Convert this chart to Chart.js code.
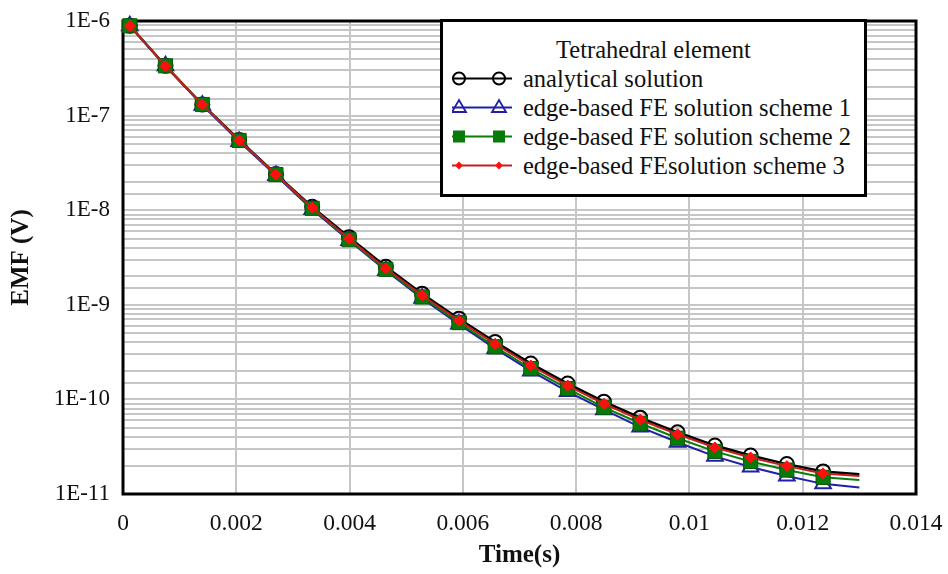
<!DOCTYPE html>
<html>
<head>
<meta charset="utf-8">
<script src="https://cdn.jsdelivr.net/npm/chart.js@4"></script>
<style>
  body { margin: 0; background: #fff; }
  #wrap { position: relative; width: 948px; height: 574px; }
  #legend {
    position: absolute; left: 440px; top: 19px; width: 427px; height: 178px;
    box-sizing: border-box; border: 3px solid #000; background: #fff;
    font-family: "Liberation Serif", "Times New Roman", serif; font-size: 24.5px; color: #111;
    padding-top: 13px;
  }
  #legend .title { text-align: center; height: 29px; line-height: 29px; }
  #legend .row { display: flex; align-items: center; height: 29px; line-height: 29px; }
  #legend svg { margin-left: 9px; margin-right: 11px; flex: none; }
</style>
</head>
<body>
<div id="wrap">
  <canvas id="chart" width="948" height="574"></canvas>
  <div id="legend"></div>
</div>
<script>
// time (s) of each marker; the last point only carries the line
const times = [0.00012, 0.00075, 0.0014, 0.00205, 0.0027, 0.00334, 0.00399, 0.00464, 0.00528, 0.00593,
  0.00657, 0.0072, 0.00785, 0.00849, 0.00913, 0.00979, 0.01045, 0.01108, 0.01172, 0.01236, 0.013];

const analytical = [8.9e-7, 3.36e-7, 1.31e-7, 5.53e-8, 2.41e-8, 1.085e-8, 5.18e-9, 2.52e-9, 1.31e-9, 7.13e-10,
  4.05e-10, 2.39e-10, 1.47e-10, 9.45e-11, 6.4e-11, 4.49e-11, 3.25e-11, 2.55e-11, 2.07e-11, 1.73e-11, 1.62e-11];
const scheme1 = [8.9e-7, 3.36e-7, 1.29e-7, 5.33e-8, 2.32e-8, 1.02e-8, 4.77e-9, 2.3e-9, 1.17e-9, 6.25e-10,
  3.44e-10, 2.0e-10, 1.21e-10, 7.78e-11, 5.1e-11, 3.52e-11, 2.5e-11, 1.93e-11, 1.55e-11, 1.28e-11, 1.17e-11];
const scheme2 = [8.9e-7, 3.36e-7, 1.31e-7, 5.46e-8, 2.38e-8, 1.047e-8, 4.88e-9, 2.37e-9, 1.21e-9, 6.48e-10,
  3.6e-10, 2.12e-10, 1.30e-10, 8.25e-11, 5.6e-11, 3.89e-11, 2.82e-11, 2.21e-11, 1.79e-11, 1.5e-11, 1.41e-11];
const scheme3 = [8.9e-7, 3.36e-7, 1.31e-7, 5.46e-8, 2.38e-8, 1.06e-8, 5.0e-9, 2.43e-9, 1.26e-9, 6.8e-10,
  3.86e-10, 2.28e-10, 1.40e-10, 9.0e-11, 6.1e-11, 4.28e-11, 3.1e-11, 2.43e-11, 1.97e-11, 1.65e-11, 1.55e-11];

const seriesNames = ["analytical solution", "edge-based FE solution scheme 1",
  "edge-based FE solution scheme 2", "edge-based FEsolution scheme 3"];
const legendTitle = "Tetrahedral element";

const xTickLabels = ["0", "0.002", "0.004", "0.006", "0.008", "0.01", "0.012", "0.014"];
const yTickLabels = ["1E-11", "1E-10", "1E-9", "1E-8", "1E-7", "1E-6"];

const font = "'Liberation Serif', 'Times New Roman', serif";

function toPoints(values) {
  return values.map((v, i) => ({ x: times[i], y: v }));
}

// no marker on the last point, the line just runs on
function radii(r) {
  return times.map((t, i) => i === times.length - 1 ? 0 : r);
}

const frame = {
  id: "frame",
  beforeDatasetsDraw(c) {
    const a = c.chartArea;
    const ctx = c.ctx;
    ctx.save();
    ctx.strokeStyle = "#000";
    ctx.lineWidth = 3;
    ctx.strokeRect(a.left, a.top, a.right - a.left, a.bottom - a.top);
    ctx.restore();
  }
};

const chart = new Chart(document.getElementById("chart"), {
  type: "line",
  data: {
    datasets: [
      {
        label: seriesNames[0], data: toPoints(analytical), order: 4,
        borderColor: "#000", borderWidth: 2.5,
        pointStyle: "circle", pointRadius: radii(7), pointBorderWidth: 2,
        pointBorderColor: "#000", pointBackgroundColor: "rgba(0,0,0,0)", clip: false
      },
      {
        label: seriesNames[1], data: toPoints(scheme1), order: 3,
        borderColor: "#1f1fa8", borderWidth: 2,
        pointStyle: "triangle", pointRadius: radii(9), pointBorderWidth: 2,
        pointBorderColor: "#1f1fa8", pointBackgroundColor: "rgba(0,0,0,0)", clip: false
      },
      {
        label: seriesNames[2], data: toPoints(scheme2), order: 2,
        borderColor: "#0a7d0a", borderWidth: 2,
        pointStyle: "rect", pointRadius: radii(10), pointBorderWidth: 1,
        pointBorderColor: "#0b5a0b", pointBackgroundColor: "#087a08", clip: false
      },
      {
        label: seriesNames[3], data: toPoints(scheme3), order: 1,
        borderColor: "#c0201c", borderWidth: 2,
        pointStyle: "rectRot", pointRadius: radii(5.5), pointBorderWidth: 1,
        pointBorderColor: "#ff1010", pointBackgroundColor: "#ff1010", clip: false
      }
    ]
  },
  options: {
    responsive: false,
    animation: false,
    layout: { padding: { left: 0, right: 32, top: 21, bottom: 0 } },
    plugins: { legend: { display: false }, tooltip: { enabled: false } },
    scales: {
      x: {
        type: "linear", min: 0, max: 0.014,
        border: { display: false },
        grid: { color: "#c6c6c6", lineWidth: 2, drawTicks: false },
        ticks: {
          stepSize: 0.002, padding: 16, color: "#111",
          font: { family: font, size: 23.5 },
          callback: (v, i) => xTickLabels[i]
        },
        title: {
          display: true, text: "Time(s)", color: "#111",
          font: { family: font, size: 25, weight: "bold" },
          padding: { top: 0, bottom: 3 }
        },
        afterFit: s => {
          s.height = 80;
          s.paddingLeft = 0;
          s.paddingRight = 0;
        }
      },
      y: {
        type: "logarithmic", min: 1e-11, max: 1e-6,
        border: { display: false },
        grid: { color: "#c6c6c6", lineWidth: 2, drawTicks: false },
        ticks: {
          autoSkip: false, padding: 13, color: "#111",
          font: { family: font, size: 23 },
          callback: v => {
            const e = Math.round(Math.log10(v));
            if (Math.abs(v / Math.pow(10, e) - 1) > 1e-6) return "";
            return yTickLabels[e + 11];
          }
        },
        title: {
          display: true, text: "EMF (V)", color: "#111",
          font: { family: font, size: 25, weight: "bold" },
          padding: { top: 7, bottom: 0 }
        },
        afterFit: s => {
          s.width = 123;
          s.paddingTop = 0;
          s.paddingBottom = 0;
        }
      }
    }
  },
  plugins: [frame]
});

// legend box inside the plot, drawn as html
const icons = [
  '<circle cx="7" cy="14.5" r="6" fill="none" stroke="#000" stroke-width="2"/><circle cx="47" cy="14.5" r="6" fill="none" stroke="#000" stroke-width="2"/>',
  '<path d="M7 7 L14 19 L0 19 Z M47 7 L54 19 L40 19 Z" fill="none" stroke="#1f1fa8" stroke-width="1.8"/>',
  '<rect x="1" y="8.5" width="12" height="12" fill="#087a08"/><rect x="41" y="8.5" width="12" height="12" fill="#087a08"/>',
  '<path d="M7 10.5 L11 14.5 L7 18.5 L3 14.5 Z M47 10.5 L51 14.5 L47 18.5 L43 14.5 Z" fill="#ff1010"/>'
];
const lineColors = ["#000", "#1f1fa8", "#0a7d0a", "#c0201c"];

let html = `<div class="title">${legendTitle}</div>`;
seriesNames.forEach((name, i) => {
  html += `<div class="row"><svg width="60" height="29">` +
    `<line x1="0" y1="14.5" x2="60" y2="14.5" stroke="${lineColors[i]}" stroke-width="2"/>` +
    icons[i] + `</svg><span>${name}</span></div>`;
});
document.getElementById("legend").innerHTML = html;
</script>
</body>
</html>
